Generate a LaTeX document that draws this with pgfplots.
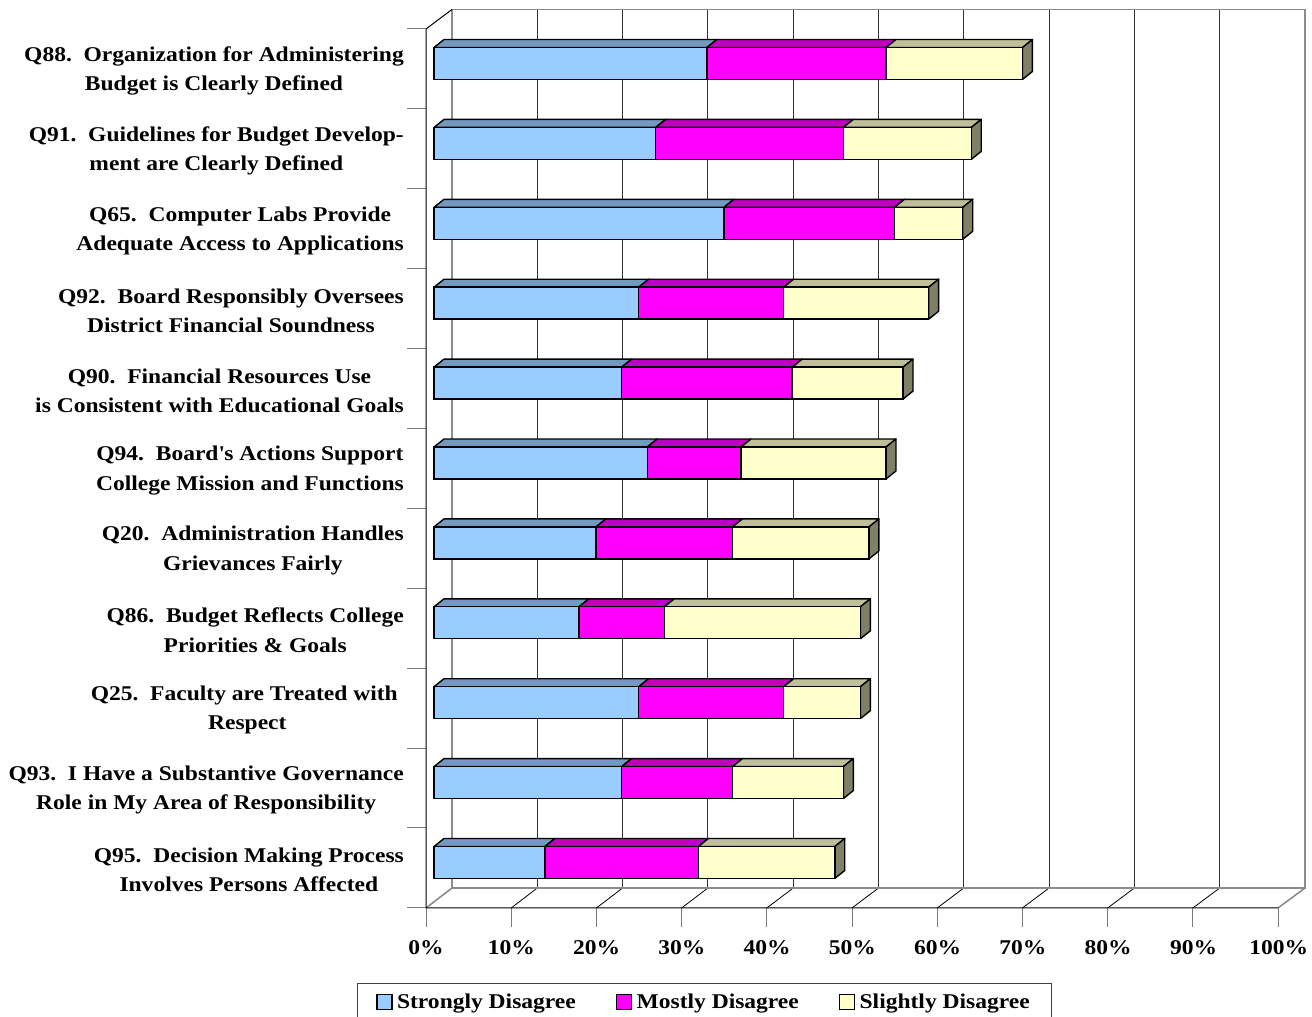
\documentclass[border=0pt]{standalone}
\usepackage{fontspec}
\setmainfont{Liberation Serif}[FakeStretch=1.12]
\usepackage{pgfplots}
\usepackage{pgfplotstable}
\pgfplotsset{compat=1.18}

\definecolor{sdFront}{HTML}{99CCFF}
\definecolor{sdTop}{HTML}{7399BF}
\definecolor{mdFront}{HTML}{FF00FF}
\definecolor{mdTop}{HTML}{BF00BF}
\definecolor{slFront}{HTML}{FFFFCC}
\definecolor{slTop}{HTML}{BFBF99}
\definecolor{slSide}{HTML}{808066}
\definecolor{wallEdge}{HTML}{8C8C8C}
\definecolor{gridc}{HTML}{333333}
\definecolor{tickc}{HTML}{7A7A7A}

\newcommand\lbl{\bfseries\fontsize{21}{29.5}\selectfont}

% Percent of respondents per item, bottom item first:
% s = strongly, m = mostly, l = slightly disagree
\pgfplotstableread{
s  m  l
13 18 16
22 13 13
24 17  9
17 10 23
19 16 16
25 11 17
22 20 13
24 17 17
34 20  8
26 22 15
32 21 16
}\data

% bar depth: offset of the back edges (x in percent, y in category units)
\def\dx{1.17}
\def\dy{0.10}
% half the bar thickness in category units
\def\hh{0.2}

% top faces of the three segments and the right end face of one bar
\newcommand\barfaces[1]{%
  \pgfplotstablegetelem{#1}{s}\of\data \pgfmathsetmacro\xa{\pgfplotsretval}%
  \pgfplotstablegetelem{#1}{m}\of\data \pgfmathsetmacro\xb{\xa+\pgfplotsretval}%
  \pgfplotstablegetelem{#1}{l}\of\data \pgfmathsetmacro\xc{\xb+\pgfplotsretval}%
  \pgfmathsetmacro\ya{#1+\hh}%
  \pgfmathsetmacro\yb{#1+\hh+\dy}%
  \pgfmathsetmacro\yc{#1-\hh}%
  \pgfmathsetmacro\yd{#1-\hh+\dy}%
  \pgfmathsetmacro\xo{\dx}%
  \pgfmathsetmacro\xao{\xa+\dx}%
  \pgfmathsetmacro\xbo{\xb+\dx}%
  \pgfmathsetmacro\xco{\xc+\dx}%
  \edef\temp{%
    \noexpand\addplot[face, fill=sdTop] coordinates {(0,\ya) (\xa,\ya) (\xao,\yb) (\xo,\yb) (0,\ya)};
    \noexpand\addplot[face, fill=mdTop] coordinates {(\xa,\ya) (\xb,\ya) (\xbo,\yb) (\xao,\yb) (\xa,\ya)};
    \noexpand\addplot[face, fill=slTop] coordinates {(\xb,\ya) (\xc,\ya) (\xco,\yb) (\xbo,\yb) (\xb,\ya)};
    \noexpand\addplot[face, fill=slSide] coordinates {(\xc,\yc) (\xc,\ya) (\xco,\yb) (\xco,\yd) (\xc,\yc)};
  }\temp
}

\begin{document}
\begin{tikzpicture}
\useasboundingbox (0,0) rectangle (1312pt,1017pt);

% walls, floor, grid lines and tick marks (drawn in pixel-like units, y downwards)
\begin{scope}[x=1pt, y=-1pt, shift={(0pt,1017pt)}]
  \foreach \k in {1,...,9}
    \draw[gridc, line width=0.9pt] ({452+85.3*\k},9.5) -- ({452+85.3*\k},888);
  \foreach \k in {1,...,9}
    \draw[black, line width=0.8pt] ({426+85.2*\k},908) -- ({452+85.3*\k},888);
  \draw[wallEdge, line width=1.6pt] (452,888) -- (452,9.5) -- (1305,9.5) -- (1305,888) -- cycle;
  \draw[wallEdge, line width=1.6pt] (426,908) -- (452,888);
  \draw[wallEdge, line width=1.6pt] (1278,908) -- (1305,888);
  \foreach \k in {0,...,10}
    \draw[tickc, line width=1pt] ({426+85.2*\k},908) -- ({426+85.2*\k},927);
  \foreach \k in {0,...,11}
    \draw[tickc, line width=1pt] (407,{29+79.9*\k}) -- (426,{29+79.9*\k});
  \draw[black, line width=1pt] (452,9.5) -- (426,29) -- (426,908) -- (1278,908);
\end{scope}

\begin{axis}[
  at={(434pt,114.55pt)}, anchor=south west,
  scale only axis, width=852.8pt, height=878.9pt,
  xmin=0, xmax=100, ymin=-0.5, ymax=10.5,
  axis line style={draw=none},
  major tick length=0pt, tick style={draw=none},
  clip=false,
  xtick={0,10,...,100},
  xticklabels={0\%,10\%,20\%,30\%,40\%,50\%,60\%,70\%,80\%,90\%,100\%},
  xticklabel style={anchor=base, xshift=-8pt, yshift=-52pt, font=\lbl},
  ytick={0,...,10},
  yticklabels={
    {Q95.~~Decision Making Process\\Involves Persons Affected},
    {Q93.~~I Have a Substantive Governance\\Role in My Area of Responsibility},
    {Q25.~~Faculty are Treated with\hspace*{6pt}\\Respect},
    {Q86.~~Budget Reflects College\\Priorities \& Goals},
    {Q20.~~Administration Handles\\Grievances Fairly},
    {Q94.~~Board\textquotesingle s Actions Support\\College Mission and Functions},
    {Q90.~~Financial Resources Use\\is Consistent with Educational Goals},
    {Q92.~~Board Responsibly Oversees\\District Financial Soundness},
    {Q65.~~Computer Labs Provide\\Adequate Access to Applications},
    {Q91.~~Guidelines for Budget Develop-\\ment are Clearly Defined},
    {Q88.~~Organization for Administering\\Budget is Clearly Defined}},
  yticklabel style={anchor=east, align=center, inner sep=0pt, xshift=-30pt, yshift=-7.5pt, font=\lbl},
  face/.style={draw=black, line width=1.4pt, line join=round, forget plot},
  frontbar/.style={xbar, bar width=32pt, bar shift=0pt, draw=black, line width=1.4pt, forget plot},
  sq legend/.style={legend image code/.code={%
    \draw[##1, draw=black, line width=1.3pt] (0pt,-7.5pt) rectangle (15pt,7.5pt);}},
  legend columns=3,
  legend style={at={(0.3172,-0.0916)}, anchor=north, draw=black!75, line width=1pt,
    font=\lbl, inner xsep=19pt, inner ysep=7.5pt,
    nodes={inner sep=3pt},
    /tikz/every odd column/.append style={column sep=1.5pt},
    /tikz/every even column/.append style={column sep=37pt}},
]
\pgfplotsinvokeforeach{0,...,10}{\barfaces{#1}}

\addplot[frontbar, fill=slFront] table[x expr=\thisrow{s}+\thisrow{m}+\thisrow{l}, y expr=\coordindex] {\data};
\addplot[frontbar, fill=mdFront] table[x expr=\thisrow{s}+\thisrow{m}, y expr=\coordindex] {\data};
\addplot[frontbar, fill=sdFront] table[x=s, y expr=\coordindex] {\data};

\addlegendimage{sq legend, fill=sdFront}
\addlegendentry{Strongly Disagree}
\addlegendimage{sq legend, fill=mdFront}
\addlegendentry{Mostly Disagree}
\addlegendimage{sq legend, fill=slFront}
\addlegendentry{Slightly Disagree}
\end{axis}
\end{tikzpicture}
\end{document}
